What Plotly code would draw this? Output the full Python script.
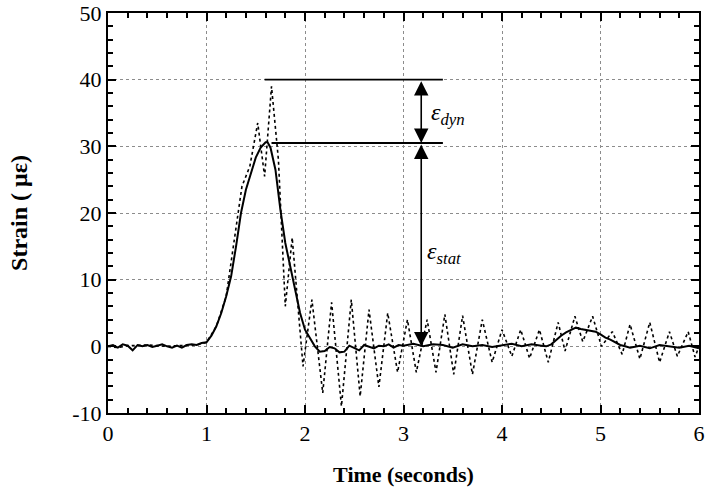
import plotly.graph_objects as go

# Solid line (static / filtered strain)
t_solid = [0.0, 0.05, 0.1, 0.15, 0.2, 0.25, 0.3, 0.35, 0.4, 0.45, 0.5, 0.55, 0.6, 0.65, 0.7, 0.75,
           0.8, 0.85, 0.9, 0.95, 1.0, 1.05, 1.1, 1.15, 1.2, 1.25, 1.3, 1.35, 1.4, 1.45, 1.5, 1.55,
           1.6, 1.62, 1.65, 1.7, 1.75, 1.8, 1.85, 1.9, 1.95, 2.0, 2.05, 2.1, 2.15, 2.2, 2.25, 2.3,
           2.35, 2.4, 2.45, 2.5, 2.55, 2.6, 2.65, 2.7, 2.75, 2.8, 2.85, 2.9, 2.95, 3.0, 3.1, 3.2,
           3.3, 3.4, 3.5, 3.6, 3.7, 3.8, 3.9, 4.0, 4.1, 4.2, 4.3, 4.4, 4.45, 4.5, 4.55, 4.6, 4.65,
           4.7, 4.75, 4.8, 4.85, 4.9, 4.95, 5.0, 5.05, 5.1, 5.15, 5.2, 5.25, 5.3, 5.4, 5.5, 5.6,
           5.7, 5.8, 5.9, 6.0]
y_solid = [0.0, 0.2, -0.2, 0.3, 0.1, -0.6, 0.2, 0.0, 0.2, -0.1, 0.1, 0.3, 0.0, -0.2, 0.1, -0.2,
           0.2, 0.3, 0.2, 0.5, 0.6, 1.6, 3.0, 5.0, 7.5, 10.5, 15.0, 20.0, 23.5, 26.0, 28.3, 29.8,
           30.6, 30.6, 29.8, 26.5, 20.5, 15.5, 12.0, 8.5, 5.0, 2.5, 1.2, 0.0, -0.8, -0.7, -0.1, -0.3,
           -0.9, -0.8, 0.1, -0.2, -0.6, 0.2, 0.0, -0.3, 0.1, 0.0, 0.3, -0.2, 0.2, 0.1, 0.4, 0.0,
           0.3, 0.2, -0.2, 0.3, 0.0, 0.2, -0.1, 0.2, 0.4, 0.0, 0.3, 0.1, 0.0, 0.3, 1.0, 1.6, 2.1,
           2.5, 2.8, 2.6, 2.5, 2.4, 2.2, 1.8, 1.3, 1.0, 0.6, 0.2, 0.0, -0.2, 0.1, -0.3, 0.2,
           0.0, -0.2, 0.1, -0.3]

# Dotted line (dynamic strain)
t_dotted = [0.0, 0.1, 0.2, 0.3, 0.4, 0.5, 0.6, 0.7, 0.8, 0.9, 1.0, 1.1, 1.2, 1.3, 1.36, 1.44,
            1.52, 1.59, 1.66, 1.73, 1.80, 1.87, 1.98, 2.07, 2.18, 2.27, 2.37, 2.47, 2.56, 2.65,
            2.75, 2.84, 2.94, 3.04, 3.13, 3.24, 3.33, 3.42, 3.51, 3.60, 3.70, 3.80, 3.90, 4.00,
            4.10, 4.19, 4.28, 4.38, 4.47, 4.57, 4.64, 4.74, 4.82, 4.92, 5.01, 5.12, 5.22, 5.30,
            5.40, 5.50, 5.60, 5.70, 5.78, 5.89, 5.96, 6.0]
y_dotted = [0.0, -0.2, 0.1, 0.2, 0.2, 0.1, 0.0, 0.1, 0.2, 0.2, 0.6, 3.0, 7.5, 18.0, 24.0, 27.0,
            33.5, 25.5, 39.0, 28.0, 6.0, 16.3, -3.0, 7.0, -7.0, 6.6, -9.0, 7.0, -7.5, 5.5,
            -6.1, 5.0, -3.9, 4.0, -3.9, 4.0, -3.9, 4.8, -4.2, 4.6, -4.2, 4.0, -2.4, 2.5,
            -1.5, 2.5, -1.8, 2.5, -2.4, 3.6, -0.7, 4.5, 0.7, 4.5, 0.0, 2.2, -1.2, 3.3,
            -1.9, 3.6, -2.4, 2.2, -1.5, 2.2, -1.6, 0.0]

# Annotation values
eps_dyn_level = 40.0
eps_stat_level = 30.5
zero_level = 0.0
line_dyn_x = [1.59, 3.40]
line_stat_x = [1.66, 3.40]
arrow_x = 3.18

x_ticks = [0, 1, 2, 3, 4, 5, 6]
y_ticks = [-10, 0, 10, 20, 30, 40, 50]

serif = "Liberation Serif, Times New Roman, serif"

fig = go.Figure()
fig.add_trace(go.Scatter(x=t_dotted, y=y_dotted, mode="lines",
                         line=dict(color="black", width=1.6, dash="dot"), showlegend=False))
fig.add_trace(go.Scatter(x=t_solid, y=y_solid, mode="lines",
                         line=dict(color="black", width=2), showlegend=False))
fig.add_trace(go.Scatter(x=line_dyn_x, y=[eps_dyn_level, eps_dyn_level], mode="lines",
                         line=dict(color="black", width=1.8), showlegend=False))
fig.add_trace(go.Scatter(x=line_stat_x, y=[eps_stat_level, eps_stat_level], mode="lines",
                         line=dict(color="black", width=1.8), showlegend=False))

fig.add_annotation(x=arrow_x, y=eps_stat_level, ax=arrow_x, ay=eps_dyn_level,
                   xref="x", yref="y", axref="x", ayref="y", text="",
                   showarrow=True, arrowhead=2, arrowside="end+start",
                   arrowsize=1.8, arrowwidth=1.6, arrowcolor="black")
fig.add_annotation(x=arrow_x, y=zero_level, ax=arrow_x, ay=eps_stat_level,
                   xref="x", yref="y", axref="x", ayref="y", text="",
                   showarrow=True, arrowhead=2, arrowside="end+start",
                   arrowsize=1.8, arrowwidth=1.6, arrowcolor="black")
fig.add_annotation(x=3.26, y=34.8, xref="x", yref="y", xanchor="left", showarrow=False,
                   text="<i>ε</i><sub><i>dyn</i></sub>",
                   font=dict(family=serif, size=24, color="black"))
fig.add_annotation(x=3.22, y=14.0, xref="x", yref="y", xanchor="left", showarrow=False,
                   text="<i>ε</i><sub><i>stat</i></sub>",
                   font=dict(family=serif, size=24, color="black"))

axis_common = dict(showline=True, linecolor="black", linewidth=2, mirror="ticks",
                   ticks="inside", ticklen=8, tickwidth=2, tickcolor="black",
                   showgrid=True, gridcolor="#8c8c8c", gridwidth=1, griddash="dot",
                   zeroline=False, automargin=False,
                   tickfont=dict(family=serif, size=22, color="black"))

fig.update_xaxes(range=[0, 6], tickvals=x_ticks, ticktext=[str(v) for v in x_ticks],
                 minor=dict(dtick=0.2, ticks="inside", ticklen=5, tickwidth=1.5,
                            tickcolor="black", showgrid=False),
                 title=dict(text="<b>Time (seconds)</b>", standoff=21,
                            font=dict(family=serif, size=22, color="black")),
                 **axis_common)
fig.update_yaxes(range=[-10, 50], tickvals=y_ticks, ticktext=[str(v) for v in y_ticks],
                 minor=dict(dtick=2, ticks="inside", ticklen=5, tickwidth=1.5,
                            tickcolor="black", showgrid=False),
                 title=dict(text="<b>Strain ( με)</b>", standoff=38,
                            font=dict(family=serif, size=24, color="black")),
                 **axis_common)

fig.update_layout(width=714, height=488, margin=dict(l=108, r=15, t=13, b=75),
                  plot_bgcolor="white", paper_bgcolor="white")

fig.write_html("out.html")
